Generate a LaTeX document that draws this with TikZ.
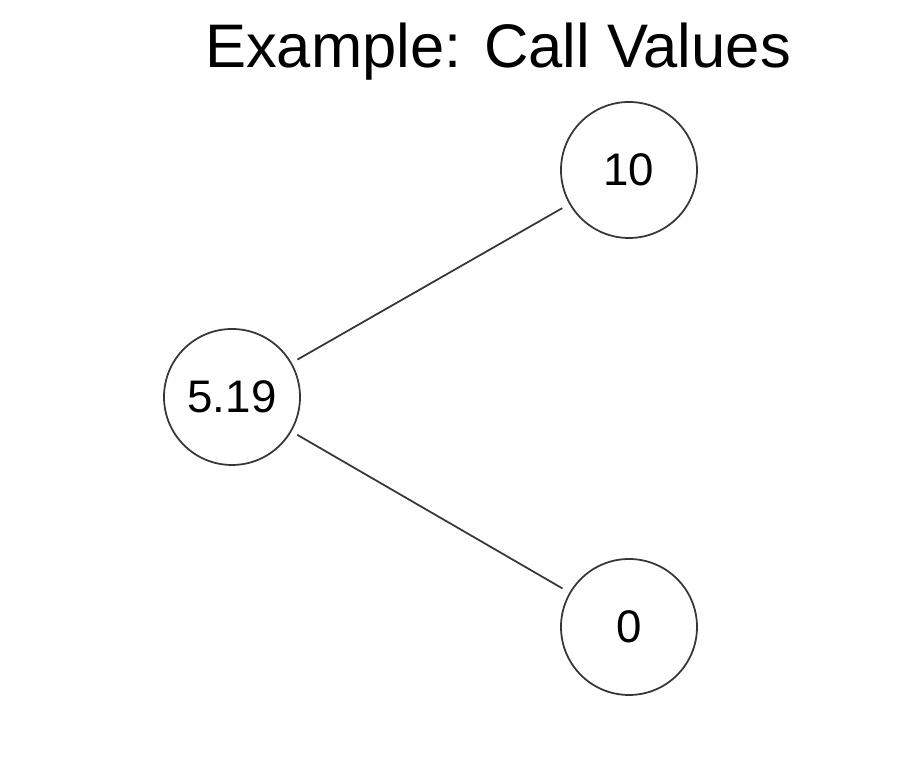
\documentclass[tikz,border=0pt]{standalone}
\usepackage{fontspec}
\setmainfont{Liberation Sans}
\usetikzlibrary{positioning,calc}
\definecolor{edgegray}{RGB}{55,55,55}

\begin{document}
\begin{tikzpicture}[
    value/.style={circle, draw=edgegray, line width=1pt, minimum size=2.72cm, inner sep=0pt, font=\fontsize{26}{30}\selectfont},
    branch/.style={draw=edgegray, line width=1pt, shorten <=0.13cm, shorten >=0.16cm},
    title/.style={font=\fontsize{35}{42}\selectfont}
]
\useasboundingbox (0,0) rectangle (18.2,15.3);

% Title
\node[title] (heading) at (9.96, 14.27) {Example: Call Values};

% One-step tree of call values
\node[value] (root) at (4.64, 7.36) {5.19};
\node[value] (up) at (12.58, 11.90) {10};
\node[value] (down) at (12.58, 2.76) {0};

% Branches
\draw[branch] (root) -- (up);
\draw[branch] (root) -- (down);

\end{tikzpicture}
\end{document}
